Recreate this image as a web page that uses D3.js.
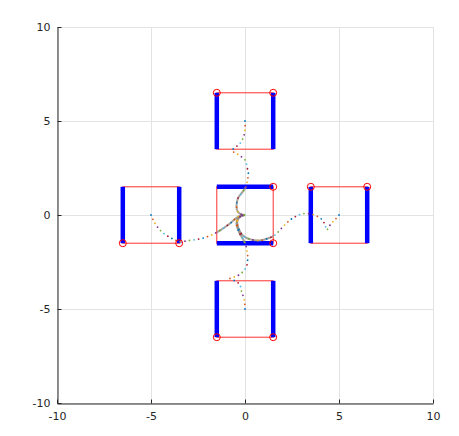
<!DOCTYPE html>
<html>
<head>
<meta charset="utf-8">
<script src="https://cdn.jsdelivr.net/npm/d3@7"></script>
<style>
  body { margin: 0; background: #fff; }
  svg text { font-family: "DejaVu Sans", sans-serif; font-size: 11px; fill: #262626; }
</style>
</head>
<body>
<div id="chart"></div>
<script>
// axis ticks
const xTicks = [-10, -5, 0, 5, 10];
const yTicks = [-10, -5, 0, 5, 10];

// room outlines (centre x, centre y), half size
const roomCentres = [[0, 0], [0, 5], [0, -5], [-5, 0], [5, 0]];
const roomHalf = 1.5;

// thick blue walls, [x1, y1, x2, y2]
const walls = [
    [-1.5, 1.5, 1.5, 1.5], [-1.5, -1.5, 1.5, -1.5],
    [-1.5, 3.5, -1.5, 6.5], [1.5, 3.5, 1.5, 6.5],
    [-1.5, -6.5, -1.5, -3.5], [1.5, -6.5, 1.5, -3.5],
    [-6.5, -1.5, -6.5, 1.5], [-3.5, -1.5, -3.5, 1.5],
    [3.5, -1.5, 3.5, 1.5], [6.5, -1.5, 6.5, 1.5]
];

// red circle markers
const markers = [
    [1.5, 1.5], [1.5, -1.5],
    [-1.5, 6.5], [1.5, 6.5],
    [-1.5, -6.5], [1.5, -6.5],
    [-6.5, -1.5], [-3.5, -1.5],
    [3.5, 1.5], [6.5, 1.5]
];

// trajectories
const pathTop = [[0, 5.0], [0, 4.5], [-0.1, 4.1], [-0.27, 3.8], [-0.45, 3.65], [-0.7, 3.42],
    [-0.5, 3.3], [-0.27, 3.15], [0, 2.93], [0.12, 2.5], [0.18, 2.2], [0.12, 1.8], [0.05, 1.5],
    [-0.15, 1.2], [-0.37, 0.9], [-0.45, 0.5], [-0.4, 0.2], [-0.2, 0.03], [0, 0]];
const pathBottom = [[0, -5.0], [-0.04, -4.5], [-0.18, -4.08], [-0.27, -3.72], [-0.44, -3.55], [-0.8, -3.37],
    [-0.53, -3.28], [-0.27, -3.16], [-0.04, -2.93], [0.09, -2.71], [0.14, -2.39], [0.14, -2.13],
    [0.09, -1.86], [0.04, -1.6], [-0.1, -1.3], [-0.3, -0.95], [-0.45, -0.5], [-0.4, -0.2], [-0.2, -0.03], [0, 0]];
const pathLeft = [[-5, 0], [-4.88, -0.27], [-4.73, -0.53], [-4.52, -0.8], [-4.26, -1.03], [-3.99, -1.19],
    [-3.72, -1.33], [-3.46, -1.42], [-3.01, -1.36], [-2.57, -1.3], [-2.13, -1.2], [-1.77, -1.06],
    [-1.3, -0.8], [-0.8, -0.45], [-0.36, -0.09], [0, 0]];
const pathRight = [[5, 0], [4.79, -0.25], [4.55, -0.5], [4.34, -0.8], [4.26, -0.53], [4.08, -0.23],
    [3.81, -0.05], [3.55, 0.04], [3.1, 0.07], [2.75, -0.05], [2.39, -0.27], [2.04, -0.6],
    [1.6, -1.06], [1.24, -1.24], [0.8, -1.35], [0.3, -1.3], [-0.1, -1.1], [-0.35, -0.7],
    [-0.4, -0.3], [-0.2, -0.05], [0, 0]];
const paths = [pathTop, pathBottom, pathLeft, pathRight];

// octave colour order for the dots
const dotColours = ["#0072bd", "#d95319", "#edb120", "#7e2f8e", "#77ac30", "#4dbeee", "#a2142f"];

const margin = { left: 57, top: 27 };
const size = 376;

const svg = d3.select("#chart").append("svg")
    .attr("width", 459)
    .attr("height", 436);

const x = d3.scaleLinear().domain([-10, 10]).range([margin.left, margin.left + size]);
const y = d3.scaleLinear().domain([-10, 10]).range([margin.top + size, margin.top]);

// grid
const grid = svg.append("g").attr("stroke", "#e3e3e3").attr("stroke-width", 1);
grid.selectAll(".gx").data(xTicks).enter().append("line")
    .attr("x1", d => Math.round(x(d)) + 0.5).attr("x2", d => Math.round(x(d)) + 0.5)
    .attr("y1", y(-10)).attr("y2", y(10));
grid.selectAll(".gy").data(yTicks).enter().append("line")
    .attr("y1", d => Math.round(y(d)) + 0.5).attr("y2", d => Math.round(y(d)) + 0.5)
    .attr("x1", x(-10)).attr("x2", x(10));

// axes with inward ticks, plain hyphen minus like octave
const fmt = d => String(d);
const xAxis = svg.append("g")
    .attr("transform", `translate(0,${Math.round(y(-10)) + 0.5})`)
    .call(d3.axisBottom(x).tickValues(xTicks).tickFormat(fmt).tickSizeInner(-4).tickSizeOuter(0).tickPadding(9));
const yAxis = svg.append("g")
    .attr("transform", `translate(${Math.round(x(-10)) + 0.5},0)`)
    .call(d3.axisLeft(y).tickValues(yTicks).tickFormat(fmt).tickSizeInner(-4).tickSizeOuter(0).tickPadding(7));
[xAxis, yAxis].forEach(a => {
    a.select(".domain").attr("stroke", "#262626");
    a.selectAll(".tick line").attr("stroke", "#262626");
    a.selectAll("text").attr("fill", "#262626").style("font-size", "11px")
        .style("font-family", "DejaVu Sans, sans-serif");
});

// red room outlines
svg.append("g").selectAll("rect").data(roomCentres).enter().append("rect")
    .attr("x", d => x(d[0] - roomHalf))
    .attr("y", d => y(d[1] + roomHalf))
    .attr("width", d => x(d[0] + roomHalf) - x(d[0] - roomHalf))
    .attr("height", d => y(d[1] - roomHalf) - y(d[1] + roomHalf))
    .attr("fill", "none")
    .attr("stroke", "#ff3030")
    .attr("stroke-width", 1);

// blue walls
svg.append("g").selectAll("line").data(walls).enter().append("line")
    .attr("x1", d => x(d[0])).attr("y1", d => y(d[1]))
    .attr("x2", d => x(d[2])).attr("y2", d => y(d[3]))
    .attr("stroke", "#0000ff")
    .attr("stroke-width", 4.5);

// trajectories
const line = d3.line().x(d => x(d[0])).y(d => y(d[1])).curve(d3.curveCatmullRom.alpha(0.5));

svg.append("clipPath").attr("id", "centre-room")
    .append("rect")
    .attr("x", x(-1.5)).attr("y", y(1.5))
    .attr("width", x(1.5) - x(-1.5)).attr("height", y(-1.5) - y(1.5));

// dense overlap in the middle room looks like a grey line
svg.append("g").attr("clip-path", "url(#centre-room)")
    .selectAll("path").data(paths).enter().append("path")
    .attr("d", line)
    .attr("fill", "none")
    .attr("stroke", "#8a8478")
    .attr("stroke-opacity", 0.75)
    .attr("stroke-width", 2);

const gap = 4.6;
const dots = svg.append("g");
paths.forEach(p => {
    dotColours.forEach((c, i) => {
        dots.append("path")
            .attr("d", line(p))
            .attr("fill", "none")
            .attr("stroke", c)
            .attr("stroke-width", 1.8)
            .attr("stroke-linecap", "round")
            .attr("stroke-dasharray", `0 ${gap * dotColours.length}`)
            .attr("stroke-dashoffset", -i * gap);
    });
});

// red circle markers
svg.append("g").selectAll("circle").data(markers).enter().append("circle")
    .attr("cx", d => x(d[0]))
    .attr("cy", d => y(d[1]))
    .attr("r", 3.5)
    .attr("fill", "none")
    .attr("stroke", "#ff0000")
    .attr("stroke-width", 1);
</script>
</body>
</html>
